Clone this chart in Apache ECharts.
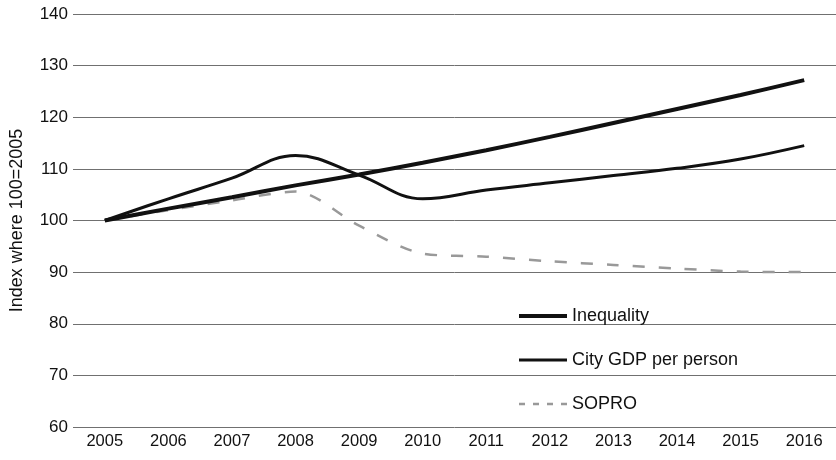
<!DOCTYPE html>
<html>
<head>
<meta charset="utf-8">
<script src="https://cdn.jsdelivr.net/npm/echarts@6/dist/echarts.min.js"></script>
<style>
  html, body { margin: 0; padding: 0; background: #fff; }
  #chart { width: 836px; height: 460px; }
</style>
</head>
<body>
<div id="chart"></div>
<script>
// Years on the horizontal axis
const years = ['2005', '2006', '2007', '2008', '2009', '2010', '2011', '2012', '2013', '2014', '2015', '2016'];

// Index values, 100 = 2005
const inequality = [100, 102.3, 104.5, 106.8, 108.9, 111.2, 113.6, 116.2, 118.9, 121.6, 124.3, 127.2];
const cityGdp    = [100, 104.2, 108.2, 112.6, 108.8, 104.2, 105.9, 107.3, 108.7, 110.1, 111.9, 114.5];
const sopro      = [100, 102.0, 103.9, 105.6, 99.0, 93.6, 93.0, 92.1, 91.4, 90.7, 90.1, 90.0];

// Vertical axis range
const yMin = 60, yMax = 140, yStep = 10;

const chart = echarts.init(document.getElementById('chart'), null, { renderer: 'canvas' });

const font = 'Liberation Sans, Arial, sans-serif';

chart.setOption({
  animation: false,
  backgroundColor: '#ffffff',
  grid: { left: 73, right: 0, top: 14, bottom: 33, containLabel: false },
  legend: {
    orient: 'vertical',
    left: 512,
    top: 302,
    padding: 5,
    itemWidth: 48,
    itemHeight: 14,
    itemGap: 26,
    itemStyle: { opacity: 0 },
    textStyle: { fontFamily: font, fontSize: 18, color: '#111' },
    data: [
      { name: 'Inequality', lineStyle: { width: 4 } },
      { name: 'City GDP per person', lineStyle: { width: 3 } },
      { name: 'SOPRO', lineStyle: { width: 2.5, type: [6, 8] } }
    ]
  },
  xAxis: {
    type: 'category',
    data: years,
    boundaryGap: true,
    axisLine: { show: false },
    axisTick: { show: false },
    axisLabel: { fontFamily: font, fontSize: 16.5, color: '#111', margin: 6 }
  },
  yAxis: {
    type: 'value',
    min: yMin,
    max: yMax,
    interval: yStep,
    name: 'Index where 100=2005',
    nameLocation: 'middle',
    nameGap: 47,
    nameTextStyle: { fontFamily: font, fontSize: 18, color: '#111' },
    axisLine: { show: false },
    axisTick: { show: false },
    axisLabel: { fontFamily: font, fontSize: 17, color: '#111', margin: 5 },
    splitLine: { lineStyle: { color: '#707070', width: 1 } }
  },
  series: [
    {
      name: 'Inequality',
      type: 'line',
      data: inequality,
      symbol: 'none',
      smooth: 0.3,
      lineStyle: { color: '#111', width: 4 },
      itemStyle: { color: '#111' },
      z: 3
    },
    {
      name: 'City GDP per person',
      type: 'line',
      data: cityGdp,
      symbol: 'none',
      smooth: 0.4,
      lineStyle: { color: '#111', width: 3 },
      itemStyle: { color: '#111' },
      z: 4
    },
    {
      name: 'SOPRO',
      type: 'line',
      data: sopro,
      symbol: 'none',
      smooth: 0.3,
      lineStyle: { color: '#999', width: 2.5, type: [12, 14] },
      itemStyle: { color: '#999' },
      z: 2
    }
  ]
});
</script>
</body>
</html>
